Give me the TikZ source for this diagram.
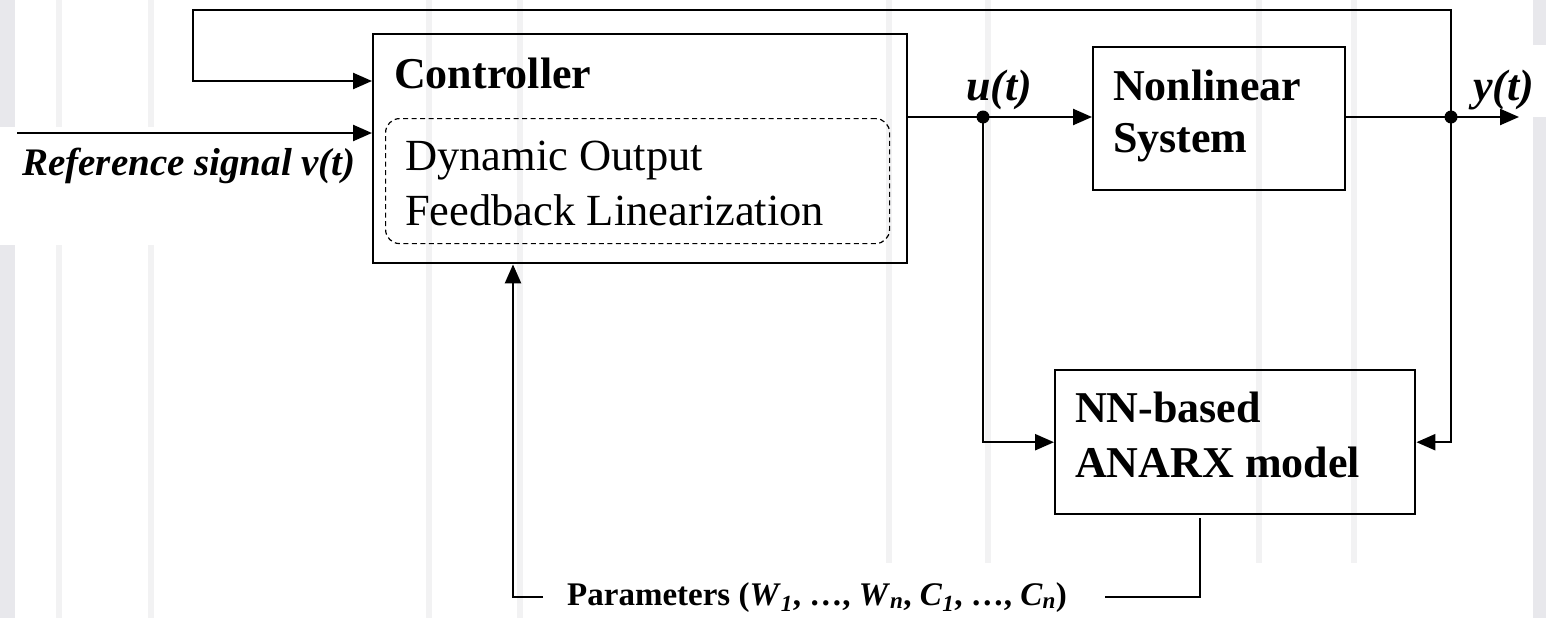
\documentclass[tikz,border=0pt]{standalone}
\usepackage{fontspec}
\setmainfont{Liberation Serif}
\usetikzlibrary{arrows.meta}
\definecolor{bandgray}{RGB}{232,232,236}
\definecolor{stripegray}{RGB}{242,242,243}
\tikzset{
  wire/.style={line width=2.4pt},
  conn/.style={wire,-{Triangle[length=19pt,width=16pt]}},
  blockbox/.style={draw,line width=2.4pt,anchor=north west,inner sep=0pt},
  dashbox/.style={draw,line width=1.2pt,dash pattern=on 5pt off 3.5pt,rounded corners=14pt,anchor=north west,inner sep=0pt},
  lbl/.style={anchor=base west,inner sep=0pt},
  headtxt/.style={lbl,font=\fontsize{44}{52}\selectfont\bfseries},
  plaintxt/.style={lbl,font=\fontsize{44.5}{54}\selectfont},
  sigtxt/.style={lbl,font=\fontsize{44}{52}\selectfont\bfseries\itshape},
  dot/.style={circle,fill=black,draw=none,inner sep=0pt,minimum size=13pt},
}
\begin{document}
\begin{tikzpicture}[x=1pt,y=-1pt]
\useasboundingbox (0,0) rectangle (1546,618);
% slide background with faint vertical stripes
\fill[white] (0,0) rectangle (1546,618);
\fill[bandgray] (0,0) rectangle (15,618);
\fill[bandgray] (1533,0) rectangle (1546,618);
\foreach \sx in {56,148,426,517,886,985,1256,1351}
  \fill[stripegray] (\sx,0) rectangle ++(6,618);
% white patches behind labels
\fill[white] (0,127) rectangle (160,245);
\fill[white] (1455,45) rectangle (1546,117);
\fill[white] (540,563) rectangle (1520,618);

% blocks
\node[blockbox,minimum width=534pt,minimum height=229pt] (ctrl) at (372,33) {};
\node[dashbox,minimum width=504pt,minimum height=125pt] (dofl) at (385,118) {};
\node[blockbox,minimum width=252pt,minimum height=143pt] (nl) at (1092,46) {};
\node[blockbox,minimum width=360pt,minimum height=144pt] (nn) at (1054,369) {};

% block texts
\node[headtxt] (ctrltxt) at (394,88) {Controller};
\node[plaintxt] (dofl1) at (405,170) {Dynamic Output};
\node[plaintxt] (dofl2) at (405,225) {Feedback Linearization};
\node[headtxt] (nl1) at (1113,100) {Nonlinear};
\node[headtxt] (nl2) at (1113,152) {System};
\node[headtxt] (nn1) at (1075,422) {NN-based};
\node[headtxt] (nn2) at (1075,477) {ANARX model};

% signal labels
\node[sigtxt] (ulbl) at (966,100) {u(t)};
\node[sigtxt] (ylbl) at (1473,100) {y(t)};
\node[lbl,font=\fontsize{39}{46}\selectfont\bfseries\itshape] (reflbl) at (22,175) {Reference signal v(t)};
\node[lbl,font=\fontsize{33}{40}\selectfont\bfseries] (params) at (567,605)
  {Parameters (\textit{W}\textsubscript{\textit{1}}, …, \textit{W}\textsubscript{\textit{n}}, \textit{C}\textsubscript{\textit{1}}, …, \textit{C}\textsubscript{\textit{n}})};

% junctions and corner points
\coordinate (uj) at (983,117);
\coordinate (yj) at (1451,117);
\coordinate (yout) at (1519,117);
\coordinate (refin) at (17,133);
\coordinate (fbtop) at (193,10);
\coordinate (fbin) at (193,81);
\coordinate (nnout) at (1200,518);
\coordinate (pright) at (1105,597);
\coordinate (pleft) at (543,597);
\coordinate (pcorner) at (513,597);

% connectors
\draw[conn] (refin) -- (ctrl.west |- refin);
\draw[conn] (yj) |- (fbtop) -- (fbin) -- (ctrl.west |- fbin);
\draw[conn] (ctrl.east |- uj) -- (nl.west |- uj);
\draw[conn] (nl.east |- yj) -- (yout);
\draw[conn] (uj) |- (nn.west);
\draw[conn] (yj) |- (nn.east);
\draw[wire] (nnout) |- (pright);
\draw[conn] (pleft) -- (pcorner) -- (ctrl.south -| pcorner);

% branch dots
\node[dot] (ujdot) at (uj) {};
\node[dot] (yjdot) at (yj) {};
\end{tikzpicture}
\end{document}
